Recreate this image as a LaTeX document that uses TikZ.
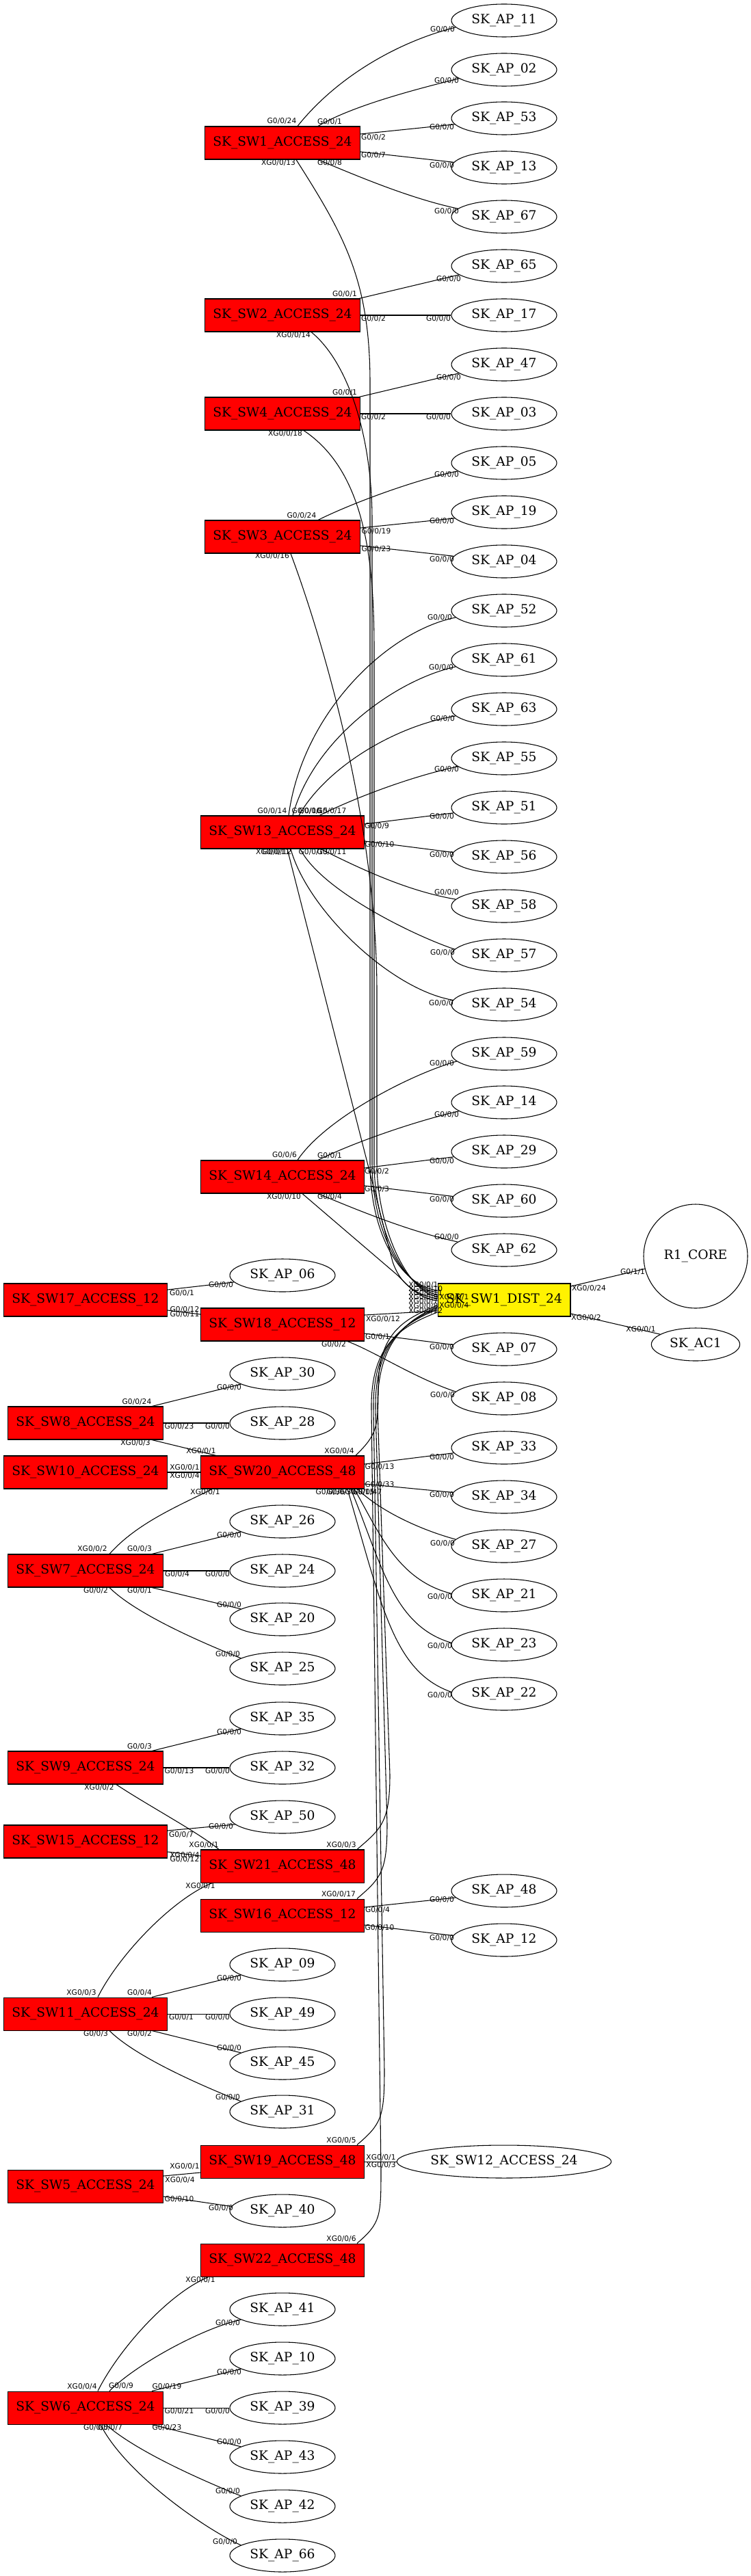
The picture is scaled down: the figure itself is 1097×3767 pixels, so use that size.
\documentclass[tikz,border=0pt]{standalone}
\usepackage{fontspec}
\setmainfont{DejaVu Serif}
\newfontfamily\labfont{DejaVu Sans}
\usetikzlibrary{calc,shapes.geometric}
\newcounter{plc}
\newcommand\pl[2]{\stepcounter{plc}\node[plab] (pl\arabic{plc}) at (#1) {#2};}
\newcommand\plw[2]{\stepcounter{plc}\node[plab,anchor=west] (pl\arabic{plc}) at (#1) {#2};}
\tikzset{
 swbox/.style={draw=black, fill=red, rectangle, minimum height=36pt, inner xsep=9pt, inner ysep=0pt, line width=0.8pt, font=\fontsize{14}{16}\selectfont},
 distbox/.style={swbox, fill=yellow},
 apell/.style={draw=black, ellipse, minimum width=115.5pt, minimum height=36pt, inner sep=0pt, line width=0.8pt, font=\fontsize{14}{16}\selectfont},
 corecirc/.style={draw=black, circle, minimum size=114pt, inner sep=0pt, line width=0.8pt, font=\fontsize{14}{16}\selectfont},
 edg/.style={draw=black, line width=0.8pt},
 plab/.style={font=\labfont\fontsize{8}{9}\selectfont, inner sep=0pt},
}
\begin{document}
\begin{tikzpicture}[x=0.75pt, y=-0.75pt]
\fill[white] (0,0) rectangle (1097,3767);
\useasboundingbox (0,0) rectangle (1097,3767);
% ---------- column C (x=737)
\node[apell] (ap11) at (737,30) {SK\_AP\_11};
\node[apell] (ap02) at (737,102) {SK\_AP\_02};
\node[apell] (ap53) at (737,173) {SK\_AP\_53};
\node[apell] (ap13) at (737,245) {SK\_AP\_13};
\node[apell] (ap67) at (737,317) {SK\_AP\_67};
\node[apell] (ap65) at (737,389) {SK\_AP\_65};
\node[apell] (ap17) at (737,461) {SK\_AP\_17};
\node[apell] (ap47) at (737,533) {SK\_AP\_47};
\node[apell] (ap03) at (737,605) {SK\_AP\_03};
\node[apell] (ap05) at (737,677) {SK\_AP\_05};
\node[apell] (ap19) at (737,749) {SK\_AP\_19};
\node[apell] (ap04) at (737,821) {SK\_AP\_04};
\node[apell] (ap52) at (737,893) {SK\_AP\_52};
\node[apell] (ap61) at (737,965) {SK\_AP\_61};
\node[apell] (ap63) at (737,1037) {SK\_AP\_63};
\node[apell] (ap55) at (737,1109) {SK\_AP\_55};
\node[apell] (ap51) at (737,1181) {SK\_AP\_51};
\node[apell] (ap56) at (737,1253) {SK\_AP\_56};
\node[apell] (ap58) at (737,1325) {SK\_AP\_58};
\node[apell] (ap57) at (737,1397) {SK\_AP\_57};
\node[apell] (ap54) at (737,1469) {SK\_AP\_54};
\node[apell] (ap59) at (737,1541) {SK\_AP\_59};
\node[apell] (ap14) at (737,1612) {SK\_AP\_14};
\node[apell] (ap29) at (737,1684) {SK\_AP\_29};
\node[apell] (ap60) at (737,1756) {SK\_AP\_60};
\node[apell] (ap62) at (737,1828) {SK\_AP\_62};
\node[distbox] (dist) at (737,1901) {SK\_SW1\_DIST\_24};
\node[apell] (ap07) at (737,1973) {SK\_AP\_07};
\node[apell] (ap08) at (737,2045) {SK\_AP\_08};
\node[apell] (ap33) at (737,2117) {SK\_AP\_33};
\node[apell] (ap34) at (737,2189) {SK\_AP\_34};
\node[apell] (ap27) at (737,2261) {SK\_AP\_27};
\node[apell] (ap21) at (737,2333) {SK\_AP\_21};
\node[apell] (ap23) at (737,2405) {SK\_AP\_23};
\node[apell] (ap22) at (737,2477) {SK\_AP\_22};
\node[apell] (ap48) at (737,2765) {SK\_AP\_48};
\node[apell] (ap12) at (737,2837) {SK\_AP\_12};
\node[apell, minimum width=235pt] (sw12) at (737,3161) {SK\_SW12\_ACCESS\_24};
% ---------- column D
\node[corecirc] (r1) at (1017,1837) {R1\_CORE};
\node[apell, minimum width=97pt] (ac1) at (1017,1966) {SK\_AC1};
% ---------- column B (x=413)
\node[swbox] (sw1a) at (413,209) {SK\_SW1\_ACCESS\_24};
\node[swbox] (sw2) at (413,461) {SK\_SW2\_ACCESS\_24};
\node[swbox] (sw4) at (413,605) {SK\_SW4\_ACCESS\_24};
\node[swbox] (sw3) at (413,785) {SK\_SW3\_ACCESS\_24};
\node[swbox] (sw13) at (413,1217) {SK\_SW13\_ACCESS\_24};
\node[swbox] (sw14) at (413,1721) {SK\_SW14\_ACCESS\_24};
\node[apell] (ap06) at (413,1865) {SK\_AP\_06};
\node[swbox] (sw18) at (413,1937) {SK\_SW18\_ACCESS\_12};
\node[apell] (ap30) at (413,2009) {SK\_AP\_30};
\node[apell] (ap28) at (413,2081) {SK\_AP\_28};
\node[swbox] (sw20) at (413,2153) {SK\_SW20\_ACCESS\_48};
\node[apell] (ap26) at (413,2225) {SK\_AP\_26};
\node[apell] (ap24) at (413,2297) {SK\_AP\_24};
\node[apell] (ap20) at (413,2368) {SK\_AP\_20};
\node[apell] (ap25) at (413,2440) {SK\_AP\_25};
\node[apell] (ap35) at (413,2513) {SK\_AP\_35};
\node[apell] (ap32) at (413,2585) {SK\_AP\_32};
\node[apell] (ap50) at (413,2657) {SK\_AP\_50};
\node[swbox] (sw21) at (413,2729) {SK\_SW21\_ACCESS\_48};
\node[swbox] (sw16) at (413,2801) {SK\_SW16\_ACCESS\_12};
\node[apell] (ap09) at (413,2873) {SK\_AP\_09};
\node[apell] (ap49) at (413,2945) {SK\_AP\_49};
\node[apell] (ap45) at (413,3017) {SK\_AP\_45};
\node[apell] (ap31) at (413,3088) {SK\_AP\_31};
\node[swbox] (sw19) at (413,3161) {SK\_SW19\_ACCESS\_48};
\node[apell] (ap40) at (413,3233) {SK\_AP\_40};
\node[swbox] (sw22) at (413,3305) {SK\_SW22\_ACCESS\_48};
\node[apell] (ap41) at (413,3377) {SK\_AP\_41};
\node[apell] (ap10) at (413,3449) {SK\_AP\_10};
\node[apell] (ap39) at (413,3521) {SK\_AP\_39};
\node[apell] (ap43) at (413,3593) {SK\_AP\_43};
\node[apell] (ap42) at (413,3665) {SK\_AP\_42};
\node[apell] (ap66) at (413,3737) {SK\_AP\_66};
% ---------- column A (x=125)
\node[swbox] (sw17) at (125,1901) {SK\_SW17\_ACCESS\_12};
\node[swbox] (sw8) at (125,2081) {SK\_SW8\_ACCESS\_24};
\node[swbox] (sw10) at (125,2153) {SK\_SW10\_ACCESS\_24};
\node[swbox] (sw7) at (125,2297) {SK\_SW7\_ACCESS\_24};
\node[swbox] (sw9) at (125,2585) {SK\_SW9\_ACCESS\_24};
\node[swbox] (sw15) at (125,2693) {SK\_SW15\_ACCESS\_12};
\node[swbox] (sw11) at (125,2945) {SK\_SW11\_ACCESS\_24};
\node[swbox] (sw5) at (125,3197) {SK\_SW5\_ACCESS\_24};
\node[swbox] (sw6) at (125,3521) {SK\_SW6\_ACCESS\_24};

% ================= edges
% SW1 access
\draw[edg] ($(sw1a.north)+(22,0)$) .. controls +(60,-75) and +(-80,20) .. (ap11.188);
\draw[edg] ($(sw1a.north)+(52,0)$) .. controls +(50,-30) and +(-60,15) .. (ap02.191);
\draw[edg] ($(sw1a.east)+(0,-13)$) -- (ap53.187);
\draw[edg] ($(sw1a.east)+(0,13)$) -- (ap13.174);
\draw[edg] ($(sw1a.south)+(52,0)$) .. controls +(60,25) and +(-70,-15) .. (ap67.170);
% SW2 / SW4
\draw[edg] ($(sw2.north east)+(-2,0)$) -- (ap65.191);
\draw[edg] (sw2.east) -- (ap17.west);
\draw[edg] ($(sw4.north east)+(-2,0)$) -- (ap47.191);
\draw[edg] (sw4.east) -- (ap03.west);
% SW3
\draw[edg] ($(sw3.north)+(52,0)$) .. controls +(50,-25) and +(-60,12) .. (ap05.190);
\draw[edg] ($(sw3.east)+(0,-13)$) -- (ap19.187);
\draw[edg] ($(sw3.east)+(0,13)$) -- (ap04.174);
% SW13
\draw[edg] ($(sw13.north)+(9,0)$) .. controls +(20,-150) and +(-100,20) .. (ap52.188);
\draw[edg] ($(sw13.north)+(15,0)$) .. controls +(30,-110) and +(-90,20) .. (ap61.188);
\draw[edg] ($(sw13.north)+(24,0)$) .. controls +(40,-70) and +(-90,15) .. (ap63.188);
\draw[edg] ($(sw13.north)+(54,0)$) .. controls +(50,-25) and +(-70,15) .. (ap55.190);
\draw[edg] ($(sw13.east)+(0,-12)$) -- (ap51.186);
\draw[edg] ($(sw13.east)+(0,13)$) -- (ap56.175);
\draw[edg] ($(sw13.south)+(56,0)$) .. controls +(60,30) and +(-70,-12) .. (ap58.172);
\draw[edg] ($(sw13.south)+(26,0)$) .. controls +(30,60) and +(-60,-20) .. (ap57.173);
\draw[edg] ($(sw13.south)+(12,0)$) .. controls +(25,90) and +(-90,-15) .. (ap54.175);
% SW14
\draw[edg] ($(sw14.north)+(22,0)$) .. controls +(40,-60) and +(-70,20) .. (ap59.189);
\draw[edg] ($(sw14.north)+(52,0)$) .. controls +(50,-25) and +(-65,15) .. (ap14.191);
\draw[edg] ($(sw14.east)+(0,-13)$) -- (ap29.186);
\draw[edg] ($(sw14.east)+(0,13)$) -- (ap60.175);
\draw[edg] ($(sw14.south)+(52,0)$) .. controls +(60,25) and +(-70,-15) .. (ap62.170);
% upper bundle into DIST
\draw[edg] ($(sw1a.south)+(20,0)$) .. controls +(70,110) and +(0,-150) .. (541,560) -- (541,1700) .. controls +(0,110) and +(-50,-6) .. ($(dist.west)+(0,-14)$);
\draw[edg] ($(sw2.south)+(42,0)$) .. controls +(55,45) and +(0,-120) .. (544,760) -- (544,1700) .. controls +(0,105) and +(-48,-6) .. ($(dist.west)+(0,-11)$);
\draw[edg] ($(sw4.south)+(31,0)$) .. controls +(90,60) and +(0,-130) .. (547,950) -- (547,1700) .. controls +(0,100) and +(-46,-6) .. ($(dist.west)+(0,-8)$);
\draw[edg] ($(sw3.south)+(12,0)$) .. controls +(45,120) and +(0,-250) .. (551,1450) -- (551,1700) .. controls +(0,95) and +(-44,-6) .. ($(dist.west)+(0,-5)$);
\draw[edg] ($(sw13.south)+(7,0)$) -- (574,1845) .. controls +(10,30) and +(-35,-6) .. ($(dist.west)+(0,-2)$);
\draw[edg] ($(sw14.south)+(29,0)$) -- (578,1862) .. controls +(15,13) and +(-30,-3) .. ($(dist.west)+(0,1)$);
% lower bundle into DIST
\draw[edg] ($(sw18.east)+(0,-14)$) -- ($(dist.west)+(0,16)$);
\draw[edg] ($(sw20.north)+(107,0)$) .. controls +(30,-30) and +(0,60) .. (553,2030) .. controls +(0,-80) and +(-50,20) .. ($(dist.west)+(0,8)$);
\draw[edg] ($(sw21.north)+(109,0)$) .. controls +(35,-30) and +(0,70) .. (570,2595) -- (552,2060) .. controls +(-1,-90) and +(-52,22) .. ($(dist.west)+(0,10)$);
\draw[edg] ($(sw16.north)+(109,0)$) .. controls +(35,-30) and +(0,70) .. (566,2667) -- (549,2060) .. controls +(-1,-90) and +(-54,22) .. ($(dist.west)+(0,12)$);
\draw[edg] ($(sw19.north)+(109,0)$) .. controls +(35,-30) and +(0,70) .. (562,3027) -- (546,2060) .. controls +(-1,-90) and +(-56,22) .. ($(dist.west)+(0,14)$);
\draw[edg] ($(sw22.north)+(109,0)$) .. controls +(35,-30) and +(0,70) .. (557,3171) -- (543,2060) .. controls +(-1,-90) and +(-58,22) .. ($(dist.west)+(0,18)$);
% DIST right
\draw[edg] ($(dist.east)+(0,-20)$) -- (r1.194);
\draw[edg] ($(dist.east)+(0,20)$) -- (ac1.164);
% SW17
\draw[edg] ($(sw17.east)+(0,-15)$) -- (ap06.188);
\draw[edg] ($(sw17.east)+(0,15)$) -- ($(sw18.west)+(0,-15)$);
% SW18
\draw[edg] ($(sw18.east)+(0,13)$) -- (ap07.175);
\draw[edg] ($(sw18.south)+(95,0)$) .. controls +(40,15) and +(-60,-20) .. (ap08.172);
% SW8
\draw[edg] ($(sw8.north)+(97,0)$) -- (ap30.194);
\draw[edg] (sw8.east) -- (ap28.west);
\draw[edg] ($(sw8.south)+(97,0)$) -- ($(sw20.north)+(-97,0)$);
% SW10
\draw[edg] (sw10.east) -- (sw20.west);
% SW20
\draw[edg] ($(sw20.east)+(0,-12)$) -- (ap33.186);
\draw[edg] ($(sw20.east)+(0,17)$) -- (ap34.175);
\draw[edg] ($(sw20.south)+(110,0)$) .. controls +(30,30) and +(-55,-15) .. (ap27.172);
\draw[edg] ($(sw20.south)+(105,0)$) .. controls +(35,60) and +(-80,-20) .. (ap21.178);
\draw[edg] ($(sw20.south)+(100,0)$) .. controls +(45,110) and +(-85,-25) .. (ap23.178);
\draw[edg] ($(sw20.south)+(95,0)$) .. controls +(50,170) and +(-85,-30) .. (ap22.178);
\draw[edg] ($(sw20.south)+(-103,0)$) .. controls +(-50,25) and +(40,-45) .. ($(sw7.north)+(35,0)$);
% SW7
\draw[edg] ($(sw7.north)+(97,0)$) -- (ap26.194);
\draw[edg] (sw7.east) -- (ap24.west);
\draw[edg] ($(sw7.south)+(97,0)$) -- (ap20.166);
\draw[edg] ($(sw7.south)+(35,0)$) .. controls +(40,40) and +(-50,-20) .. (ap25.166);
% SW9
\draw[edg] ($(sw9.north)+(97,0)$) -- (ap35.194);
\draw[edg] (sw9.east) -- (ap32.west);
\draw[edg] ($(sw9.south)+(45,0)$) .. controls +(45,30) and +(-30,-25) .. ($(sw21.north)+(-93,0)$);
% SW15
\draw[edg] ($(sw15.east)+(0,-16)$) -- (ap50.189);
\draw[edg] ($(sw15.east)+(0,15)$) -- ($(sw21.west)+(0,-15)$);
% SW21
\draw[edg] ($(sw21.south)+(-103,0)$) .. controls +(-60,25) and +(30,-60) .. ($(sw11.north)+(18,0)$);
% SW16
\draw[edg] ($(sw16.east)+(0,-12)$) -- (ap48.188);
\draw[edg] ($(sw16.east)+(0,14)$) -- (ap12.175);
% SW11
\draw[edg] ($(sw11.north)+(97,0)$) -- (ap09.194);
\draw[edg] (sw11.east) -- (ap49.west);
\draw[edg] ($(sw11.south)+(97,0)$) -- (ap45.166);
\draw[edg] ($(sw11.south)+(35,0)$) .. controls +(40,40) and +(-50,-20) .. (ap31.166);
% SW19
\draw[edg] (sw19.east) -- (sw12.west);
% SW5
\draw[edg] ($(sw5.east)+(0,-15)$) -- ($(sw19.west)+(0,16)$);
\draw[edg] ($(sw5.east)+(0,15)$) -- (ap40.175);
% SW22
\draw[edg] ($(sw22.south)+(-108,0)$) .. controls +(-60,25) and +(30,-60) .. ($(sw6.north)+(18,0)$);
% SW6
\draw[edg] ($(sw6.north)+(35,0)$) .. controls +(40,-40) and +(-55,12) .. (ap41.194);
\draw[edg] ($(sw6.north)+(97,0)$) -- (ap10.194);
\draw[edg] (sw6.east) -- (ap39.west);
\draw[edg] ($(sw6.south)+(97,0)$) -- (ap43.166);
\draw[edg] ($(sw6.south)+(30,0)$) .. controls +(45,40) and +(-50,-20) .. (ap42.166);
\draw[edg] ($(sw6.south)+(22,0)$) .. controls +(35,70) and +(-55,-25) .. (ap66.166);

% ================= port labels
% SW1 access
\pl{412,177}{G0/0/24}
\pl{647,43}{G0/0/0}
\pl{482,178}{G0/0/1}
\pl{653,118}{G0/0/0}
\pl{546,201}{G0/0/2}
\pl{646,186}{G0/0/0}
\pl{546,227}{G0/0/7}
\pl{646,242}{G0/0/0}
\pl{482,238}{G0/0/8}
\pl{653,309}{G0/0/0}
\pl{407,238}{XG0/0/13}
% SW2
\pl{504,430}{G0/0/1}
\pl{656,408}{G0/0/0}
\pl{546,466}{G0/0/2}
\pl{641,466}{G0/0/0}
\pl{429,490}{XG0/0/14}
% SW4
\pl{504,574}{G0/0/1}
\pl{656,552}{G0/0/0}
\pl{546,610}{G0/0/2}
\pl{641,610}{G0/0/0}
\pl{417,634}{XG0/0/18}
% SW3
\pl{441,754}{G0/0/24}
\pl{653,694}{G0/0/0}
\pl{550,777}{G0/0/19}
\pl{646,762}{G0/0/0}
\pl{550,803}{G0/0/23}
\pl{646,818}{G0/0/0}
\pl{398,813}{XG0/0/16}
% SW13
\pl{398,1186}{G0/0/14}
\pl{448,1186}{G0/0/16}
\pl{458,1186}{G0/0/15}
\pl{485,1186}{G0/0/17}
\pl{643,903}{G0/0/0}
\pl{645,976}{G0/0/0}
\pl{647,1051}{G0/0/0}
\pl{653,1125}{G0/0/0}
\pl{551,1208}{G0/0/9}
\pl{646,1194}{G0/0/0}
\pl{555,1235}{G0/0/10}
\pl{646,1250}{G0/0/0}
\pl{399,1246}{XG0/0/11}
\pl{405,1246}{G0/0/12}
\pl{458,1246}{G0/0/13}
\pl{485,1246}{G0/0/11}
\pl{653,1305}{G0/0/0}
\pl{647,1393}{G0/0/0}
\pl{645,1467}{G0/0/0}
% SW14
\pl{416,1689}{G0/0/6}
\pl{646,1555}{G0/0/0}
\pl{482,1690}{G0/0/1}
\pl{653,1630}{G0/0/0}
\pl{551,1713}{G0/0/2}
\pl{646,1698}{G0/0/0}
\pl{551,1739}{G0/0/3}
\pl{646,1754}{G0/0/0}
\pl{482,1750}{G0/0/4}
\pl{653,1809}{G0/0/0}
\pl{415,1750}{XG0/0/10}
% DIST
\plw{597,1879}{XG0/0/1}
\plw{597,1885}{XG0/0/10}
\plw{597,1891}{XG0/0/11}
\plw{597,1897}{XG0/0/9}
\plw{597,1903}{XG0/0/7}
\plw{597,1910}{XG0/0/8}
\plw{597,1917}{XG0/0/12}
\plw{642,1897}{XG0/0/1}
\plw{642,1909}{XG0/0/4}
\pl{861,1884}{XG0/0/24}
\pl{925,1860}{G0/1/1}
\pl{857,1927}{XG0/0/2}
\pl{937,1944}{XG0/0/1}
% SW17
\pl{266,1891}{G0/0/1}
\pl{323,1879}{G0/0/0}
\pl{270,1915}{G0/0/12}
\pl{270,1922}{G0/0/11}
% SW18
\pl{560,1929}{XG0/0/12}
\pl{552,1955}{G0/0/1}
\pl{646,1970}{G0/0/0}
\pl{488,1966}{G0/0/2}
\pl{647,2040}{G0/0/0}
% SW8
\pl{200,2050}{G0/0/24}
\pl{335,2029}{G0/0/0}
\pl{262,2086}{G0/0/23}
\pl{318,2086}{G0/0/0}
\pl{198,2110}{XG0/0/3}
\pl{294,2122}{XG0/0/1}
% SW10
\pl{270,2146}{XG0/0/1}
\pl{270,2158}{XG0/0/4}
% SW20
\pl{496,2122}{XG0/0/4}
\pl{555,2145}{G0/0/13}
\pl{646,2131}{G0/0/0}
\pl{555,2171}{G0/0/33}
\pl{646,2186}{G0/0/0}
\pl{483,2182}{G0/0/36}
\pl{499,2182}{G0/0/30}
\pl{526,2182}{G0/0/15}
\pl{537,2182}{G0/0/47}
\pl{647,2257}{G0/0/0}
\pl{643,2335}{G0/0/0}
\pl{643,2407}{G0/0/0}
\pl{643,2479}{G0/0/0}
\pl{300,2182}{XG0/0/1}
\pl{135,2265}{XG0/0/2}
% SW7
\pl{204,2265}{G0/0/3}
\pl{335,2245}{G0/0/0}
\pl{259,2302}{G0/0/4}
\pl{318,2302}{G0/0/0}
\pl{140,2326}{G0/0/2}
\pl{204,2326}{G0/0/1}
\pl{335,2347}{G0/0/0}
\pl{333,2419}{G0/0/0}
% SW9
\pl{204,2554}{G0/0/3}
\pl{335,2533}{G0/0/0}
\pl{262,2590}{G0/0/13}
\pl{318,2590}{G0/0/0}
\pl{145,2614}{XG0/0/2}
\pl{298,2698}{XG0/0/1}
% SW15
\pl{265,2683}{G0/0/7}
\pl{323,2671}{G0/0/0}
\pl{270,2713}{XG0/0/4}
\pl{270,2719}{G0/0/12}
% SW21
\pl{499,2698}{XG0/0/3}
\pl{293,2758}{XG0/0/1}
\pl{119,2914}{XG0/0/3}
% SW16
\pl{495,2770}{XG0/0/17}
\pl{552,2793}{G0/0/4}
\pl{646,2778}{G0/0/0}
\pl{555,2819}{G0/0/10}
\pl{646,2834}{G0/0/0}
% SW11
\pl{204,2914}{G0/0/4}
\pl{335,2893}{G0/0/0}
\pl{265,2950}{G0/0/1}
\pl{318,2950}{G0/0/0}
\pl{140,2974}{G0/0/3}
\pl{204,2974}{G0/0/2}
\pl{335,2995}{G0/0/0}
\pl{333,3067}{G0/0/0}
% SW19
\pl{499,3130}{XG0/0/5}
\pl{557,3155}{XG0/0/1}
\pl{557,3166}{XG0/0/3}
% SW5
\pl{270,3168}{XG0/0/1}
\pl{263,3188}{XG0/0/4}
\pl{262,3216}{G0/0/10}
\pl{323,3229}{G0/0/0}
% SW22
\pl{499,3274}{XG0/0/6}
\pl{293,3334}{XG0/0/1}
\pl{120,3490}{XG0/0/4}
% SW6
\pl{177,3489}{G0/0/9}
\pl{333,3397}{G0/0/0}
\pl{244,3490}{G0/0/19}
\pl{335,3469}{G0/0/0}
\pl{262,3526}{G0/0/21}
\pl{318,3526}{G0/0/0}
\pl{244,3550}{G0/0/23}
\pl{335,3571}{G0/0/0}
\pl{140,3550}{G0/0/5}
\pl{161,3550}{G0/0/7}
\pl{333,3643}{G0/0/0}
\pl{329,3717}{G0/0/0}
\end{tikzpicture}
\end{document}
